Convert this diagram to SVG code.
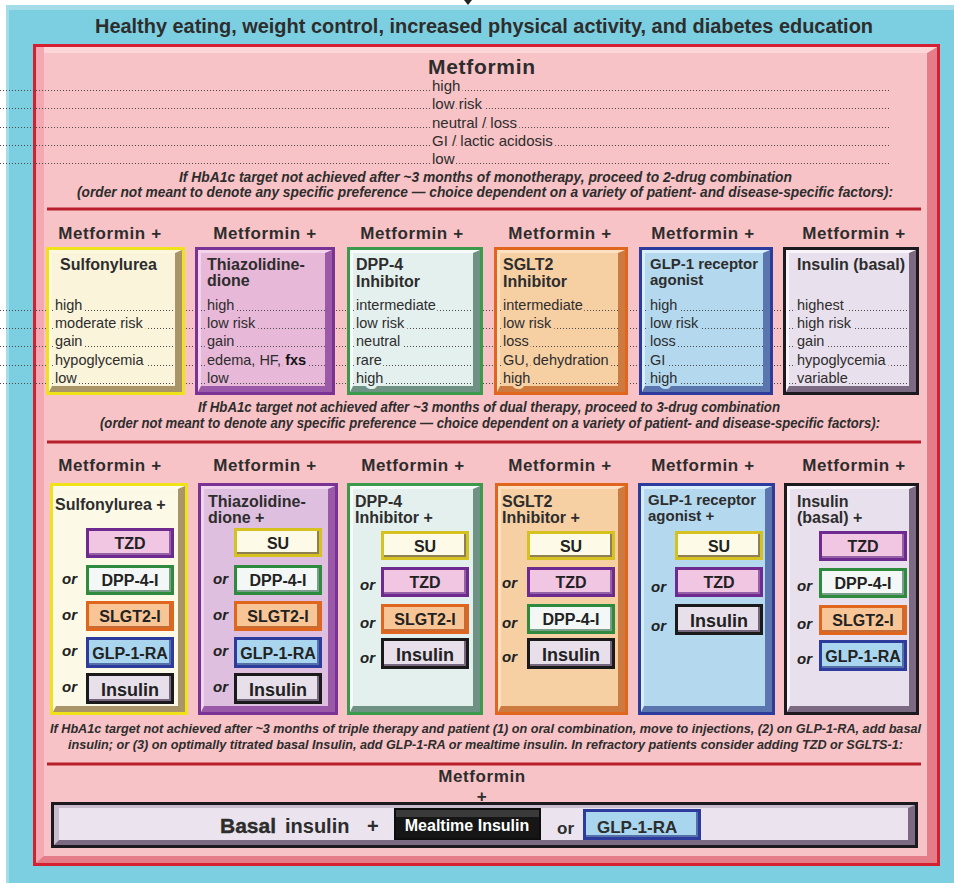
<svg xmlns="http://www.w3.org/2000/svg" xmlns:xlink="http://www.w3.org/1999/xlink" width="954" height="883" viewBox="0 0 954 883">
<style>
text{font-family:"Liberation Sans",Arial,sans-serif;fill:#2d2d2d}
.title{font-weight:bold;font-size:20px}
.mh{font-weight:bold;font-size:21px;letter-spacing:0.7px}
.hd{font-weight:bold;font-size:17px;letter-spacing:0.6px;text-anchor:middle}
.bt{font-weight:bold;font-size:16px}
.bs{font-weight:bold;font-size:15px}
.rw{font-size:15px;paint-order:stroke;stroke-width:6px;stroke-linejoin:round}
.rs{font-size:14.5px;paint-order:stroke;stroke-width:6px;stroke-linejoin:round}
.it{font-style:italic;font-weight:bold;font-size:14px;text-anchor:middle}
.it2{font-style:italic;font-weight:bold;font-size:12px;text-anchor:middle}
.pl{font-weight:bold;font-size:16px;text-anchor:middle;fill:#222}
.pi{font-weight:bold;font-size:18px;text-anchor:middle;fill:#222}
.or{font-style:italic;font-weight:bold;font-size:15px;fill:#222}
.dot{stroke:#4a4a4a;stroke-width:1;stroke-dasharray:1 2;fill:none}
.div{stroke:#b81f2b;stroke-width:3}
.sk1{stroke:#f9f4da}.sk2{stroke:#e8b8d8}.sk3{stroke:#e4f0ee}.sk4{stroke:#f6cfa3}.sk5{stroke:#b4d8ee}.sk6{stroke:#e8e0ec}.skp{stroke:#f7c3c6}
</style>
<defs>
<g id="pTZD"><rect width="88" height="30" fill="#6e2a8e"/><rect x="3" y="3" width="82" height="24" fill="#9460a6"/><rect x="3" y="3" width="80" height="22" fill="#f1c6e3"/></g>
<g id="pDPP"><rect width="88" height="30" fill="#2e8b3e"/><rect x="3" y="3" width="82" height="24" fill="#7a9e8a"/><rect x="3" y="3" width="80" height="22" fill="#f3f8f6"/></g>
<g id="pSLGT"><rect width="88" height="30" fill="#e0661e"/><rect x="3" y="3" width="82" height="24" fill="#c66c34"/><rect x="3" y="3" width="80" height="22" fill="#f8c696"/></g>
<g id="pGLP"><rect width="88" height="31" fill="#2c3b9c"/><rect x="3" y="3" width="82" height="25" fill="#5570a8"/><rect x="3" y="3" width="80" height="23" fill="#a9d5ef"/></g>
<g id="pINS"><rect width="88" height="31" fill="#1a1a1a"/><rect x="3" y="3" width="82" height="25" fill="#76667e"/><rect x="3" y="3" width="80" height="23" fill="#e7e0ea"/></g>
<g id="pSU"><rect width="88" height="29" fill="#d5c220"/><rect x="3" y="3" width="82" height="23" fill="#8e8052"/><rect x="3" y="3" width="80" height="21" fill="#fdfbe8"/></g>
</defs>

<rect width="954" height="883" fill="#ffffff"/>
<g id="frame">
<rect x="6" y="5" width="948" height="878" fill="#7ccfe1"/>
<rect x="6" y="5" width="948" height="5" fill="#a3dde9"/>
<rect x="6" y="5" width="3" height="878" fill="#a3dde9"/>
<rect x="33" y="44" width="907" height="822" fill="#d42030"/>
<rect x="36" y="47" width="901" height="816" fill="#e47c89"/>
<polygon points="36,47 937,47 927,53 44,53 44,856 36,863" fill="#f4a8b1"/>
<polygon points="44,47 937,47 927,53 44,53" fill="#fbd6d9"/>
<rect x="44" y="53" width="883" height="803" fill="#f7c3c6"/>
</g>

<g id="connectors">
<polygon points="464,0 472,0 468,5" fill="#222"/>
</g>

<g id="header">
<text class="title" x="95" y="33" textLength="778" lengthAdjust="spacingAndGlyphs">Healthy eating, weight control, increased physical activity, and diabetes education</text>
</g>

<g id="metformin">
<text class="mh" x="428" y="74">Metformin</text>
<line class="dot" x1="0" y1="90.5" x2="889" y2="90.5"/>
<line class="dot" x1="0" y1="108.5" x2="889" y2="108.5"/>
<line class="dot" x1="0" y1="127.5" x2="889" y2="127.5"/>
<line class="dot" x1="0" y1="145.5" x2="889" y2="145.5"/>
<line class="dot" x1="0" y1="163.5" x2="889" y2="163.5"/>
<text class="rw skp" x="432" y="91">high</text>
<text class="rw skp" x="432" y="109">low risk</text>
<text class="rw skp" x="432" y="128">neutral / loss</text>
<text class="rw skp" x="432" y="146">GI / lactic acidosis</text>
<text class="rw skp" x="432" y="164">low</text>
<text class="it" x="485.5" y="182" textLength="613" lengthAdjust="spacingAndGlyphs">If HbA1c target not achieved after ~3 months of monotherapy, proceed to 2-drug combination</text>
<text class="it" x="485" y="197" textLength="816" lengthAdjust="spacingAndGlyphs">(order not meant to denote any specific preference — choice dependent on a variety of patient- and disease-specific factors):</text>
<line class="div" x1="47" y1="209" x2="921" y2="209"/>
</g>

<g id="dual-headers">
<text class="hd" x="110" y="239">Metformin +</text>
<text class="hd" x="265" y="239">Metformin +</text>
<text class="hd" x="412" y="239">Metformin +</text>
<text class="hd" x="560" y="239">Metformin +</text>
<text class="hd" x="703" y="239">Metformin +</text>
<text class="hd" x="854" y="239">Metformin +</text>
</g>

<g id="dual-leaders">
<line class="dot" x1="0" y1="310.5" x2="918" y2="310.5"/>
<line class="dot" x1="0" y1="328.5" x2="918" y2="328.5"/>
<line class="dot" x1="0" y1="346.5" x2="918" y2="346.5"/>
<line class="dot" x1="0" y1="365.5" x2="918" y2="365.5"/>
<line class="dot" x1="0" y1="383.5" x2="918" y2="383.5"/>
</g>

<g id="dual-su">
<rect x="46" y="247" width="139" height="148" fill="#efe21a"/>
<rect x="49" y="250" width="133" height="142" fill="#a99567"/>
<polygon points="49,250 182,250 175,253 52,253 52,386 49,392" fill="#fdf9e0"/>
<rect x="52" y="253" width="123" height="133" fill="#f9f4da"/>
<g class="dot"><line x1="52" y1="310.5" x2="175" y2="310.5"/><line x1="52" y1="328.5" x2="175" y2="328.5"/><line x1="52" y1="346.5" x2="175" y2="346.5"/><line x1="52" y1="365.5" x2="175" y2="365.5"/><line x1="52" y1="383.5" x2="175" y2="383.5"/></g>
<text class="bt" x="60" y="270">Sulfonylurea</text>
<text class="rs sk1" x="55" y="310">high</text>
<text class="rs sk1" x="55" y="328">moderate risk</text>
<text class="rs sk1" x="55" y="346">gain</text>
<text class="rs sk1" x="55" y="365">hypoglycemia</text>
<text class="rs sk1" x="55" y="383">low</text>
</g>

<g id="dual-tzd">
<rect x="195" y="247" width="140" height="148" fill="#7a3394"/>
<rect x="198" y="250" width="134" height="142" fill="#9a5aa8"/>
<polygon points="198,250 332,250 325,253 201,253 201,386 198,392" fill="#f3d3ea"/>
<rect x="201" y="253" width="124" height="133" fill="#e8b8d8"/>
<g class="dot"><line x1="201" y1="310.5" x2="325" y2="310.5"/><line x1="201" y1="328.5" x2="325" y2="328.5"/><line x1="201" y1="346.5" x2="325" y2="346.5"/><line x1="201" y1="365.5" x2="325" y2="365.5"/><line x1="201" y1="383.5" x2="325" y2="383.5"/></g>
<text class="bt" x="207" y="270">Thiazolidine-</text>
<text class="bt" x="207" y="286">dione</text>
<text class="rs sk2" x="207" y="310">high</text>
<text class="rs sk2" x="207" y="328">low risk</text>
<text class="rs sk2" x="207" y="346">gain</text>
<text class="rs sk2" x="207" y="365">edema, HF, <tspan font-weight="bold" fill="#111">fxs</tspan></text>
<text class="rs sk2" x="207" y="383">low</text>
</g>

<g id="dual-dpp">
<rect x="347" y="247" width="136" height="148" fill="#3c9a4d"/>
<rect x="350" y="250" width="130" height="142" fill="#6e9384"/>
<polygon points="350,250 480,250 473,253 353,253 353,386 350,392" fill="#f7fcfa"/>
<rect x="353" y="253" width="120" height="133" fill="#e4f0ee"/>
<g class="dot"><line x1="353" y1="310.5" x2="473" y2="310.5"/><line x1="353" y1="328.5" x2="473" y2="328.5"/><line x1="353" y1="346.5" x2="473" y2="346.5"/><line x1="353" y1="365.5" x2="473" y2="365.5"/><line x1="353" y1="383.5" x2="473" y2="383.5"/></g>
<text class="bt" x="356" y="270">DPP-4</text>
<text class="bt" x="356" y="287">Inhibitor</text>
<text class="rs sk3" x="356" y="310">intermediate</text>
<text class="rs sk3" x="356" y="328">low risk</text>
<text class="rs sk3" x="356" y="346">neutral</text>
<text class="rs sk3" x="356" y="365">rare</text>
<text class="rs sk3" x="356" y="383">high</text>
</g>

<g id="dual-sglt2">
<rect x="494" y="247" width="134" height="148" fill="#e0661e"/>
<rect x="497" y="250" width="128" height="142" fill="#cc7a40"/>
<polygon points="497,250 625,250 618,253 500,253 500,386 497,392" fill="#fde0c2"/>
<rect x="500" y="253" width="118" height="133" fill="#f6cfa3"/>
<g class="dot"><line x1="500" y1="310.5" x2="618" y2="310.5"/><line x1="500" y1="328.5" x2="618" y2="328.5"/><line x1="500" y1="346.5" x2="618" y2="346.5"/><line x1="500" y1="365.5" x2="618" y2="365.5"/><line x1="500" y1="383.5" x2="618" y2="383.5"/></g>
<text class="bt" x="503" y="270">SGLT2</text>
<text class="bt" x="503" y="287">Inhibitor</text>
<text class="rs sk4" x="503" y="310">intermediate</text>
<text class="rs sk4" x="503" y="328">low risk</text>
<text class="rs sk4" x="503" y="346">loss</text>
<text class="rs sk4" x="503" y="365">GU, dehydration</text>
<text class="rs sk4" x="503" y="383">high</text>
</g>

<g id="dual-glp1">
<rect x="639" y="247" width="134" height="148" fill="#2c3b9c"/>
<rect x="642" y="250" width="128" height="142" fill="#5b76ae"/>
<polygon points="642,250 770,250 763,253 645,253 645,386 642,392" fill="#d8eefa"/>
<rect x="645" y="253" width="118" height="133" fill="#b4d8ee"/>
<g class="dot"><line x1="645" y1="310.5" x2="763" y2="310.5"/><line x1="645" y1="328.5" x2="763" y2="328.5"/><line x1="645" y1="346.5" x2="763" y2="346.5"/><line x1="645" y1="365.5" x2="763" y2="365.5"/><line x1="645" y1="383.5" x2="763" y2="383.5"/></g>
<text class="bs" x="650" y="269" textLength="108" lengthAdjust="spacingAndGlyphs">GLP-1 receptor</text>
<text class="bs" x="650" y="285">agonist</text>
<text class="rs sk5" x="650" y="310">high</text>
<text class="rs sk5" x="650" y="328">low risk</text>
<text class="rs sk5" x="650" y="346">loss</text>
<text class="rs sk5" x="650" y="365">GI</text>
<text class="rs sk5" x="650" y="383">high</text>
</g>

<g id="dual-insulin">
<rect x="783" y="247" width="136" height="148" fill="#1c1a1e"/>
<rect x="786" y="250" width="130" height="142" fill="#7b6a82"/>
<polygon points="786,250 916,250 909,253 789,253 789,386 786,392" fill="#f8f4fa"/>
<rect x="789" y="253" width="120" height="133" fill="#e8e0ec"/>
<g class="dot"><line x1="789" y1="310.5" x2="909" y2="310.5"/><line x1="789" y1="328.5" x2="909" y2="328.5"/><line x1="789" y1="346.5" x2="909" y2="346.5"/><line x1="789" y1="365.5" x2="909" y2="365.5"/><line x1="789" y1="383.5" x2="909" y2="383.5"/></g>
<text class="bt" x="797" y="270" textLength="108" lengthAdjust="spacingAndGlyphs">Insulin (basal)</text>
<text class="rs sk6" x="797" y="310">highest</text>
<text class="rs sk6" x="797" y="328">high risk</text>
<text class="rs sk6" x="797" y="346">gain</text>
<text class="rs sk6" x="797" y="365">hypoglycemia</text>
<text class="rs sk6" x="797" y="383">variable</text>
</g>

<g id="dual-note">
<text class="it" x="489" y="412" textLength="582" lengthAdjust="spacingAndGlyphs">If HbA1c target not achieved after ~3 months of dual therapy, proceed to 3-drug combination</text>
<text class="it" x="490" y="428" textLength="780" lengthAdjust="spacingAndGlyphs">(order not meant to denote any specific preference — choice dependent on a variety of patient- and disease-specific factors):</text>
<line class="div" x1="47" y1="442" x2="921" y2="442"/>
</g>

<g id="triple-headers">
<text class="hd" x="110" y="471">Metformin +</text>
<text class="hd" x="265" y="471">Metformin +</text>
<text class="hd" x="413" y="471">Metformin +</text>
<text class="hd" x="560" y="471">Metformin +</text>
<text class="hd" x="703" y="471">Metformin +</text>
<text class="hd" x="854" y="471">Metformin +</text>
</g>

<g id="triple-su">
<rect x="50" y="483" width="138" height="232" fill="#efe21a"/>
<rect x="53" y="486" width="132" height="226" fill="#a99567"/>
<polygon points="53,486 185,486 178,489 56,489 56,706 53,712" fill="#fffbea"/>
<rect x="56" y="489" width="122" height="217" fill="#fcf9e6"/>
<text class="bt" x="55" y="510">Sulfonylurea +</text>
<use xlink:href="#pTZD" x="86" y="528"/><text class="pl" x="130" y="549">TZD</text>
<use xlink:href="#pDPP" x="86" y="565"/><text class="pl" x="130" y="586">DPP-4-I</text>
<use xlink:href="#pSLGT" x="86" y="601"/><text class="pl" x="130" y="622">SLGT2-I</text>
<use xlink:href="#pGLP" x="86" y="637"/><text class="pl" x="130" y="658.5">GLP-1-RA</text>
<use xlink:href="#pINS" x="86" y="673"/><text class="pi" x="130" y="695.5">Insulin</text>
<text class="or" x="62" y="584">or</text>
<text class="or" x="62" y="620">or</text>
<text class="or" x="62" y="656">or</text>
<text class="or" x="62" y="692">or</text>
</g>

<g id="triple-tzd">
<rect x="198" y="483" width="140" height="232" fill="#7a3394"/>
<rect x="201" y="486" width="134" height="226" fill="#9a5aa8"/>
<polygon points="201,486 335,486 328,489 204,489 204,706 201,712" fill="#efd6ec"/>
<rect x="204" y="489" width="124" height="217" fill="#dfbfe0"/>
<text class="bt" x="208" y="507">Thiazolidine-</text>
<text class="bt" x="208" y="523">dione +</text>
<use xlink:href="#pSU" x="234" y="528"/><text class="pl" x="278" y="548.5">SU</text>
<use xlink:href="#pDPP" x="234" y="565"/><text class="pl" x="278" y="586">DPP-4-I</text>
<use xlink:href="#pSLGT" x="234" y="601"/><text class="pl" x="278" y="622">SLGT2-I</text>
<use xlink:href="#pGLP" x="234" y="637"/><text class="pl" x="278" y="658.5">GLP-1-RA</text>
<use xlink:href="#pINS" x="234" y="673"/><text class="pi" x="278" y="695.5">Insulin</text>
<text class="or" x="213" y="584">or</text>
<text class="or" x="213" y="620">or</text>
<text class="or" x="213" y="656">or</text>
<text class="or" x="213" y="692">or</text>
</g>

<g id="triple-dpp">
<rect x="347" y="483" width="136" height="232" fill="#3c9a4d"/>
<rect x="350" y="486" width="130" height="226" fill="#6e9384"/>
<polygon points="350,486 480,486 473,489 353,489 353,706 350,712" fill="#f7fcfa"/>
<rect x="353" y="489" width="120" height="217" fill="#e4f0ee"/>
<text class="bt" x="355" y="507">DPP-4</text>
<text class="bt" x="355" y="523">Inhibitor +</text>
<use xlink:href="#pSU" x="381" y="531"/><text class="pl" x="425" y="551.5">SU</text>
<use xlink:href="#pTZD" x="381" y="567"/><text class="pl" x="425" y="588">TZD</text>
<use xlink:href="#pSLGT" x="381" y="604"/><text class="pl" x="425" y="625">SLGT2-I</text>
<use xlink:href="#pINS" x="381" y="638"/><text class="pi" x="425" y="660.5">Insulin</text>
<text class="or" x="360" y="590">or</text>
<text class="or" x="360" y="628">or</text>
<text class="or" x="360" y="663">or</text>
</g>

<g id="triple-sglt2">
<rect x="495" y="483" width="133" height="232" fill="#e0661e"/>
<rect x="498" y="486" width="127" height="226" fill="#cc7a40"/>
<polygon points="498,486 625,486 618,489 501,489 501,706 498,712" fill="#fde0c2"/>
<rect x="501" y="489" width="117" height="217" fill="#f6cfa3"/>
<text class="bt" x="502" y="507">SGLT2</text>
<text class="bt" x="502" y="523">Inhibitor +</text>
<use xlink:href="#pSU" x="527" y="531"/><text class="pl" x="571" y="551.5">SU</text>
<use xlink:href="#pTZD" x="527" y="567"/><text class="pl" x="571" y="588">TZD</text>
<use xlink:href="#pDPP" x="527" y="604"/><text class="pl" x="571" y="625">DPP-4-I</text>
<use xlink:href="#pINS" x="527" y="638"/><text class="pi" x="571" y="660.5">Insulin</text>
<text class="or" x="502" y="588">or</text>
<text class="or" x="502" y="628">or</text>
<text class="or" x="502" y="662">or</text>
</g>

<g id="triple-glp1">
<rect x="638" y="483" width="137" height="232" fill="#2c3b9c"/>
<rect x="641" y="486" width="131" height="226" fill="#5b76ae"/>
<polygon points="641,486 772,486 765,489 644,489 644,706 641,712" fill="#d8eefa"/>
<rect x="644" y="489" width="121" height="217" fill="#b4d8ee"/>
<text class="bs" x="648" y="505" textLength="108" lengthAdjust="spacingAndGlyphs">GLP-1 receptor</text>
<text class="bs" x="648" y="521">agonist +</text>
<use xlink:href="#pSU" x="675" y="531"/><text class="pl" x="719" y="551.5">SU</text>
<use xlink:href="#pTZD" x="675" y="567"/><text class="pl" x="719" y="588">TZD</text>
<use xlink:href="#pINS" x="675" y="604"/><text class="pi" x="719" y="626.5">Insulin</text>
<text class="or" x="651" y="592">or</text>
<text class="or" x="651" y="631">or</text>
</g>

<g id="triple-insulin">
<rect x="784" y="483" width="135" height="232" fill="#1c1a1e"/>
<rect x="787" y="486" width="129" height="226" fill="#7b6a82"/>
<polygon points="787,486 916,486 909,489 790,489 790,706 787,712" fill="#f8f4fa"/>
<rect x="790" y="489" width="119" height="217" fill="#e8e0ec"/>
<text class="bt" x="797" y="507">Insulin</text>
<text class="bt" x="797" y="523">(basal) +</text>
<use xlink:href="#pTZD" x="819" y="531"/><text class="pl" x="863" y="552">TZD</text>
<use xlink:href="#pDPP" x="819" y="568"/><text class="pl" x="863" y="589">DPP-4-I</text>
<use xlink:href="#pSLGT" x="819" y="605"/><text class="pl" x="863" y="626">SLGT2-I</text>
<use xlink:href="#pGLP" x="819" y="640"/><text class="pl" x="863" y="661.5">GLP-1-RA</text>
<text class="or" x="797" y="591">or</text>
<text class="or" x="797" y="629">or</text>
<text class="or" x="797" y="664">or</text>
</g>

<g id="triple-note">
<text class="it2" x="485.5" y="733" textLength="871" lengthAdjust="spacingAndGlyphs">If HbA1c target not achieved after ~3 months of triple therapy and patient (1) on oral combination, move to injections, (2) on GLP-1-RA, add basal</text>
<text class="it2" x="485.5" y="749" textLength="835" lengthAdjust="spacingAndGlyphs">insulin; or (3) on optimally titrated basal Insulin, add GLP-1-RA or mealtime insulin. In refractory patients consider adding TZD or SGLTS-1:</text>
<line class="div" x1="47" y1="764" x2="921" y2="764"/>
</g>

<g id="final">
<text class="hd" x="482" y="782" letter-spacing="0.8">Metformin</text>
<text class="hd" x="482" y="802" font-size="14">+</text>
<rect x="51" y="802" width="867" height="46" fill="#1c1a1e"/>
<rect x="54" y="805" width="861" height="40" fill="#7b6a82"/>
<polygon points="54,805 915,805 908,808 59,808 59,840 54,845" fill="#c9bccd"/>
<rect x="59" y="808" width="849" height="32" fill="#ebe4ee"/>
<text x="220" y="833" font-weight="bold" font-size="21" stroke="#2d2d2d" stroke-width="0.4">Basal</text>
<text x="285" y="833" font-weight="bold" font-size="20">insulin</text>
<text x="367" y="833" font-weight="bold" font-size="20">+</text>
<rect x="394" y="808" width="147" height="32" fill="#0e0e0e"/>
<rect x="396" y="810" width="143" height="14" fill="#3a3a3a"/>
<rect x="396" y="817" width="143" height="21" fill="#161616"/>
<text x="467" y="831" font-weight="bold" font-size="16" text-anchor="middle" style="fill:#ffffff">Mealtime Insulin</text>
<text x="557" y="834" font-weight="bold" font-size="17">or</text>
<rect x="583" y="809" width="118" height="31" fill="#2c3b9c"/>
<rect x="586" y="812" width="112" height="25" fill="#5570a8"/>
<rect x="586" y="812" width="110" height="23" fill="#a9d5ef"/>
<text x="597" y="833" font-weight="bold" font-size="17">GLP-1-RA</text>
</g>
</svg>
